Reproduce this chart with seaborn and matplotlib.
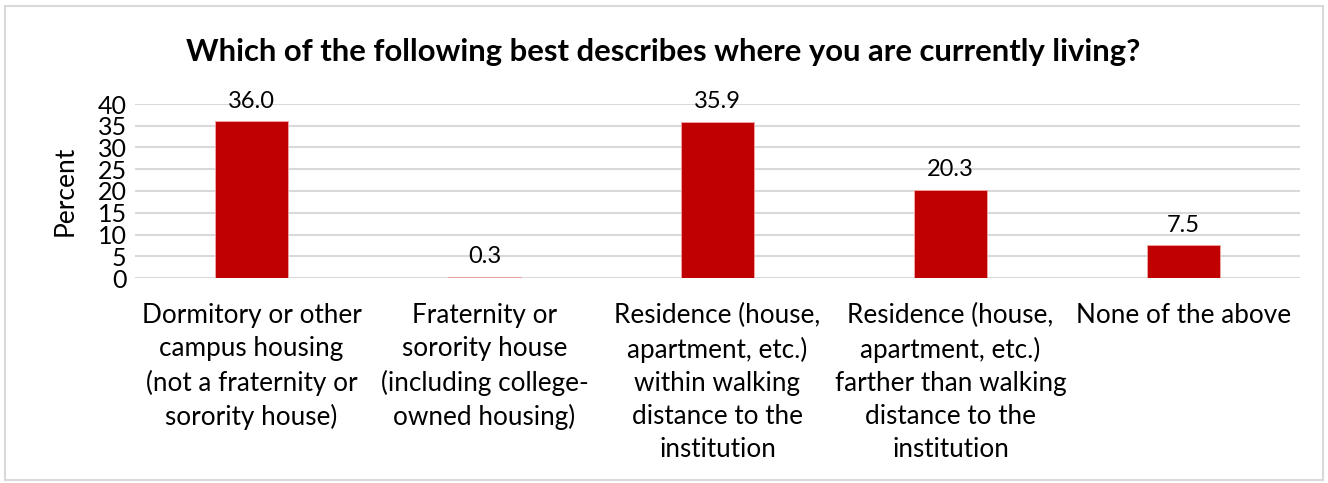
import matplotlib
matplotlib.use("Agg")
import matplotlib.pyplot as plt
import seaborn as sns
import pandas as pd
from matplotlib.patches import Rectangle

categories = [
    "Dormitory or other\ncampus housing\n(not a fraternity or\nsorority house)",
    "Fraternity or\nsorority house\n(including college-\nowned housing)",
    "Residence (house,\napartment, etc.)\nwithin walking\ndistance to the\ninstitution",
    "Residence (house,\napartment, etc.)\nfarther than walking\ndistance to the\ninstitution",
    "None of the above",
]
values = [36.0, 0.3, 35.9, 20.3, 7.5]
title = "Which of the following best describes where you are currently living?"
y_ticks = [0, 5, 10, 15, 20, 25, 30, 35, 40]

sns.set_theme(style="white")
plt.rcParams['font.family'] = ['Lato', 'DejaVu Sans']

df = pd.DataFrame({"cat": categories, "val": values})

fig = plt.figure(figsize=(13.28, 4.83), dpi=100)
ax = fig.add_axes([135/1328, 1 - 278/483, 1165/1328, 174/483])

sns.barplot(data=df, x="cat", y="val", color="#C00000", width=0.31,
            saturation=1, ax=ax, zorder=3, edgecolor="#F0A8A8", linewidth=0.6)

ax.set_ylim(0, 40)
ax.set_xlim(-0.5, len(categories) - 0.5)
ax.set_yticks(y_ticks)
ax.set_yticklabels([str(t) for t in y_ticks], fontsize=18, color="#000000")
ax.yaxis.grid(True, color="#D9D9D9", linewidth=1.5, zorder=0)
ax.set_axisbelow(True)
for s in ax.spines.values():
    s.set_visible(False)
ax.tick_params(axis="both", length=0)
ax.tick_params(axis="y", pad=6)
ax.tick_params(axis="x", pad=18)
ax.set_xticklabels(categories, fontsize=18.8, color="#000000", linespacing=1.4)
ax.set_xlabel("")
ax.set_ylabel("Percent", fontsize=19, color="#000000", labelpad=14)

for i, v in enumerate(values):
    ax.annotate(f"{v:.1f}", (i, v), xytext=(0, 7), textcoords="offset points",
                ha="center", va="bottom", fontsize=17, color="#000000")

fig.text(663/1328, 1 - 52/483, title, ha="center", va="center",
         fontsize=22.3, fontweight="bold", color="#000000")

fig.patches.append(Rectangle((5/1328, 3/483), 1318/1328, 474/483,
                             transform=fig.transFigure, fill=False,
                             edgecolor="#D9D9D9", linewidth=1.5))

fig.savefig("out.png", dpi=100)
